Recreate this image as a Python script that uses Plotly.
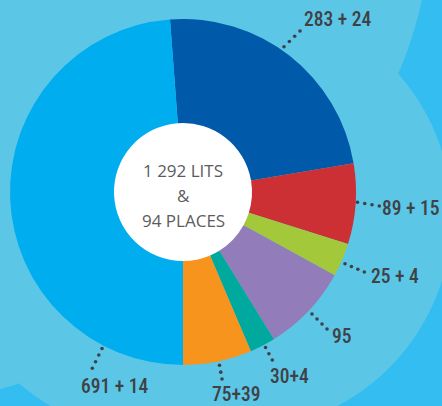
import numpy as np
import plotly.graph_objects as go

# ---- data ----
slice_labels = ["283 + 24", "89 + 15", "25 + 4", "95", "30+4", "75+39", "691 + 14"]
slice_shares = [84.7, 27.1, 11.3, 29.5, 8.6, 23.1, 175.7]   # visual share of the ring (degrees)
center_lines = ["1 292 LITS", "&", "94 PLACES"]

# ---- style / layout ----
slice_colors = ["#0059a9", "#cc3035", "#a3c93a", "#937cba", "#00a99d", "#f7941e", "#00adee"]
W, H = 442, 406
CX, CY, R = 183, 192, 173
HOLE_R = 69
LIGHT = "#5bc6e6"
BRIGHT = "#34bdf0"
INK = "#404144"
LABEL_FONT = "Roboto Condensed, Liberation Sans Narrow, Arial Narrow, DejaVu Sans Condensed, Roboto, sans-serif"

# leader geometry (pixel space): big dot, end of dotted line, label centre
dot_pos = [(262.7, 67.7), (328.3, 197.3), (319.3, 252.7), (292, 294), (248.7, 316.3), (213.3, 331), (115, 322)]
end_pos = [(300, 31), (379.3, 206), (364.3, 272), (327, 329), (272.3, 360), (222, 379), (92.3, 368.3)]
lab_pos = [(337.5, 19.5), (410.5, 208.5), (394.5, 276), (342, 336), (289.5, 376), (236, 394.5), (114.7, 386)]

fig = go.Figure()

fig.add_trace(go.Pie(
    values=slice_shares, labels=slice_labels, marker=dict(colors=slice_colors, line=dict(width=0)),
    sort=False, direction="clockwise", rotation=-4.3, hole=HOLE_R / R,
    textinfo="none", hoverinfo="label", showlegend=False,
    domain=dict(x=[(CX - R) / W, (CX + R) / W], y=[(H - CY - R) / H, (H - CY + R) / H]),
))

# dotted leaders
for (x0, y0), (x1, y1) in zip(dot_pos, end_pos):
    t = np.linspace(0, 1, 8)[1:]
    fig.add_trace(go.Scatter(x=x0 + (x1 - x0) * t, y=y0 + (y1 - y0) * t, mode="markers",
                             marker=dict(size=3.6, color=INK), hoverinfo="skip", showlegend=False))
fig.add_trace(go.Scatter(x=[p[0] for p in dot_pos], y=[p[1] for p in dot_pos], mode="markers",
                         marker=dict(size=11, color=INK), hoverinfo="skip", showlegend=False))

annotations = []
for txt, (lx, ly) in zip(slice_labels, lab_pos):
    annotations.append(dict(x=lx, y=ly, xref="x", yref="y", text=txt, showarrow=False,
                            xanchor="center", yanchor="middle",
                            font=dict(family=LABEL_FONT, size=19.5, color=INK, weight=500)))
for i, line in enumerate(center_lines):
    annotations.append(dict(x=CX, y=170 + 25 * i, xref="x", yref="y", text=line, showarrow=False,
                            xanchor="center", yanchor="middle",
                            font=dict(family="Open Sans, sans-serif", size=17, color="#5c5c5e")))

def circle(cx, cy, r, color):
    return dict(type="circle", xref="x", yref="y", x0=cx - r, x1=cx + r, y0=cy - r, y1=cy + r,
                fillcolor=color, line=dict(width=0), layer="below")

shapes = [
    circle(31, -84.5, 400, LIGHT),
    circle(151, 233, 200, LIGHT),
    circle(-76, 99, 300, LIGHT),
    circle(237, 216, 215, LIGHT),
    circle(CX, CY, HOLE_R + 1, "white"),
]

fig.update_layout(
    width=W, height=H, margin=dict(l=0, r=0, t=0, b=0),
    paper_bgcolor=BRIGHT, plot_bgcolor="rgba(0,0,0,0)",
    xaxis=dict(range=[0, W], visible=False, fixedrange=True),
    yaxis=dict(range=[H, 0], visible=False, fixedrange=True),
    shapes=shapes, annotations=annotations, showlegend=False,
)

fig.write_html("out.html", config={"displayModeBar": False},
               post_script="document.body.style.margin='0';document.body.style.overflow='hidden';")
